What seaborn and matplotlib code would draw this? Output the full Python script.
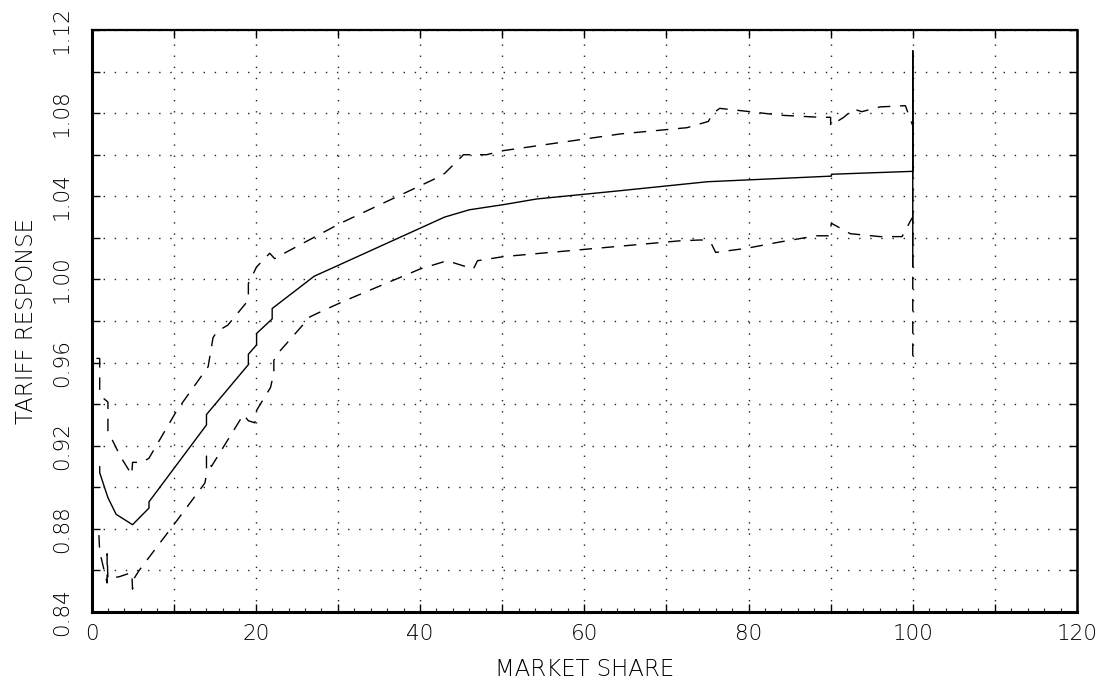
import matplotlib
matplotlib.use("Agg")
import matplotlib.pyplot as plt
import matplotlib.ticker as mticker
import seaborn as sns
import pandas as pd

# ---- data ----
central_x = [1.0, 1.0, 2.0, 3.0, 5.0, 7.0, 7.0, 14.0, 14.0, 19.1, 19.1, 20.1, 20.1,
             22.0, 22.0, 27.1, 43.0, 46.0, 50.2, 54.2, 64.4, 75.0, 90.1, 90.1,
             100.0, 100.0, 100.0]
central_y = [0.910, 0.907, 0.895, 0.887, 0.882, 0.890, 0.893, 0.930, 0.935, 0.959,
             0.964, 0.9685, 0.974, 0.981, 0.986, 1.0015, 1.030, 1.0335, 1.036,
             1.0387, 1.0427, 1.047, 1.0497, 1.0506, 1.052, 1.110, 1.006]

upper_x = [0.6, 1.0, 1.0, 1.4, 2.0, 2.0, 3.5, 4.9, 5.0, 6.2, 7.0, 10.4, 14.2, 14.8,
           15.3, 16.6, 19.1, 19.1, 20.1, 21.7, 22.3, 23.8, 30.3, 41.6, 43.0, 45.3,
           48.1, 50.2, 64.4, 72.5, 75.1, 75.7, 76.5, 80.2, 83.9, 88.7, 90.0, 90.0,
           91.6, 92.8, 93.8, 96.0, 99.1, 100.0, 100.0]
upper_y = [0.962, 0.962, 0.946, 0.943, 0.941, 0.927, 0.915, 0.906, 0.912, 0.912,
           0.914, 0.937, 0.958, 0.972, 0.975, 0.978, 0.990, 0.998, 1.006, 1.0126,
           1.010, 1.0133, 1.027, 1.048, 1.051, 1.060, 1.060, 1.062, 1.070, 1.073,
           1.076, 1.080, 1.0823, 1.0807, 1.079, 1.078, 1.078, 1.074, 1.078, 1.082,
           1.0807, 1.083, 1.0836, 1.074, 0.962]

lower_x = [0.9, 1.0, 1.3, 1.9, 1.9, 2.0, 3.4, 4.9, 5.0, 5.0, 5.8, 10.4, 13.8, 14.0,
           14.0, 14.6, 18.5, 19.1, 19.9, 20.1, 21.8, 22.2, 22.2, 22.6, 26.6, 28.2,
           31.0, 40.0, 43.3, 46.5, 47.0, 50.2, 64.4, 71.7, 74.3, 75.5, 76.0, 79.8,
           83.8, 88.3, 89.8, 90.1, 92.4, 96.0, 98.7, 99.7, 100.0]
lower_y = [0.877, 0.869, 0.864, 0.854, 0.868, 0.856, 0.857, 0.859, 0.851, 0.855,
           0.860, 0.884, 0.902, 0.906, 0.915, 0.910, 0.935, 0.932, 0.931, 0.937,
           0.948, 0.955, 0.961, 0.964, 0.982, 0.985, 0.990, 1.005, 1.009, 1.005,
           1.009, 1.011, 1.016, 1.0186, 1.019, 1.017, 1.013, 1.015, 1.018, 1.021,
           1.021, 1.027, 1.022, 1.0206, 1.0206, 1.028, 1.030]

x_label = "MARKET SHARE"
y_label = "TARIFF RESPONSE"

# ---- plotting ----
sns.set_style("white")
plt.rcParams["font.family"] = ["DejaVu Sans"]

fig = plt.figure(figsize=(11.08, 6.84), dpi=100)
ax = fig.add_axes([91.5 / 1108, 72 / 684, (1077 - 91.5) / 1108, (612 - 30) / 684])

df_c = pd.DataFrame({"x": central_x, "y": central_y})
df_u = pd.DataFrame({"x": upper_x, "y": upper_y})
df_l = pd.DataFrame({"x": lower_x, "y": lower_y})

sns.lineplot(data=df_c, x="x", y="y", sort=False, estimator=None, ax=ax,
             color="black", linewidth=1.0)
sns.lineplot(data=df_u, x="x", y="y", sort=False, estimator=None, ax=ax,
             color="black", linewidth=1.0, linestyle=(0, (9, 7)))
sns.lineplot(data=df_l, x="x", y="y", sort=False, estimator=None, ax=ax,
             color="black", linewidth=1.0, linestyle=(0, (9, 7)))

ax.set_xlim(0, 120)
ax.set_ylim(0.84, 1.12)

ax.xaxis.set_major_locator(mticker.MultipleLocator(10))
ax.xaxis.set_minor_locator(mticker.MultipleLocator(2))
ax.yaxis.set_major_locator(mticker.MultipleLocator(0.02))

def xfmt(v, pos):
    return "%d" % round(v) if round(v) % 20 == 0 else ""

def yfmt(v, pos):
    return "%.2f" % v if round(v / 0.02) % 2 == 0 else ""

ax.xaxis.set_major_formatter(mticker.FuncFormatter(xfmt))
ax.yaxis.set_major_formatter(mticker.FuncFormatter(yfmt))

ax.grid(True, which="major", color="#222222", linewidth=1.0,
        linestyle=(0, (1, 7)))

ax.tick_params(which="major", direction="in", length=6, width=1.0,
               top=True, right=True, bottom=True, left=True, colors="black",
               labelcolor="black", labelsize=15.5, pad=9)
ax.tick_params(which="minor", direction="in", length=3, width=0.8,
               bottom=True, top=False, left=False, right=False)
ax.tick_params(axis="y", which="major", pad=14)
for lab in ax.get_yticklabels():
    lab.set_rotation(90)
    lab.set_va("center")
for lab in ax.get_xticklabels() + ax.get_yticklabels():
    lab.set_fontweight("light")

ax.spines["left"].set_linewidth(2.2)
ax.spines["bottom"].set_linewidth(2.2)
ax.spines["top"].set_linewidth(1.6)
ax.spines["right"].set_linewidth(1.8)
for s in ax.spines.values():
    s.set_color("black")
    s.set_visible(True)

ax.set_xlabel(x_label, fontsize=16.5, fontweight="light", color="black", labelpad=10)
ax.set_ylabel(y_label, fontsize=16.5, fontweight="light", color="black", labelpad=10)

fig.savefig("out.png", dpi=100, facecolor="white")
